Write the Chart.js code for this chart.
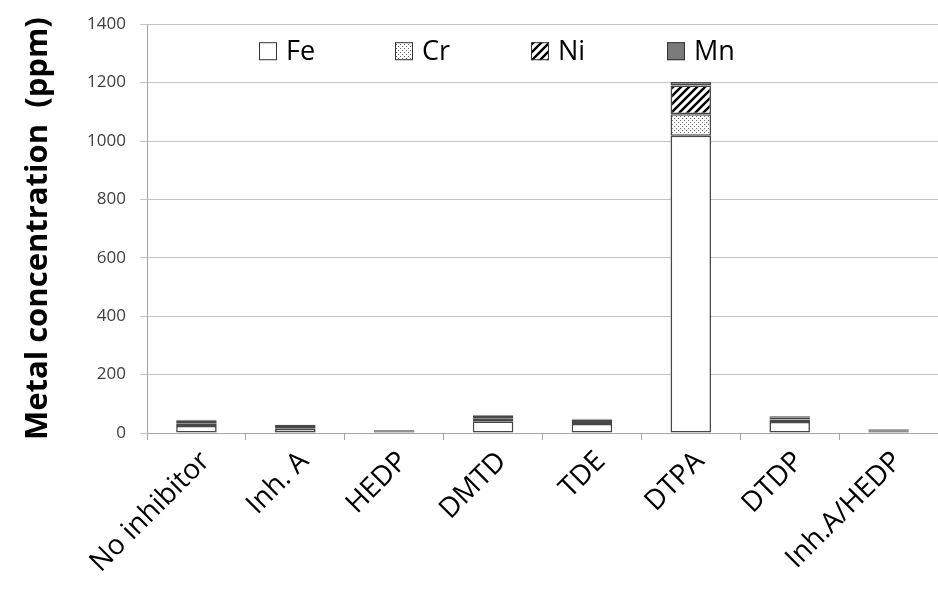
<!DOCTYPE html>
<html>
<head>
<meta charset="utf-8">
<script src="https://cdn.jsdelivr.net/npm/chart.js@4"></script>
<style>
  html, body { margin: 0; padding: 0; background: #fff; }
  #wrap { width: 938px; height: 597px; }
</style>
</head>
<body>
<div id="wrap"><canvas id="chart" width="938" height="597"></canvas></div>
<script>
// Dissolved metal concentration per inhibitor (ppm), stacked by element
const inhibitors = ['No inhibitor', 'Inh. A', 'HEDP', 'DMTD', 'TDE', 'DTPA', 'DTDP', 'Inh.A/HEDP'];
const fe = [24, 14, 6, 40, 31, 1018, 38, 6];
const cr = [9, 2, 1, 9, 7, 74, 8, 2];
const ni = [9, 8, 2, 9, 8, 98, 8, 4];
const mn = [3, 4, 1, 3, 3, 12, 3, 2];
const metals = ['Fe', 'Cr', 'Ni', 'Mn'];
const yTicks = [0, 200, 400, 600, 800, 1000, 1200, 1400];

// Fill patterns for each element
function makeTile(size, draw) {
  const c = document.createElement('canvas');
  c.width = size; c.height = size;
  const g = c.getContext('2d');
  g.fillStyle = '#ffffff';
  g.fillRect(0, 0, size, size);
  draw(g);
  return document.getElementById('chart').getContext('2d').createPattern(c, 'repeat');
}
const dotFill = makeTile(4, g => {
  g.fillStyle = '#6a6a6a';
  g.fillRect(0, 0, 1, 1);
  g.fillRect(2, 2, 1, 1);
});
const hatchFill = makeTile(8, g => {
  g.strokeStyle = '#000';
  g.lineWidth = 2.4;
  g.beginPath();
  g.moveTo(-1, 9); g.lineTo(9, -1);
  g.moveTo(-1, 1); g.lineTo(1, -1);
  g.moveTo(7, 9); g.lineTo(9, 7);
  g.stroke();
});
const fills = ['#ffffff', dotFill, hatchFill, '#7a7a7a'];
const series = [fe, cr, ni, mn];

const FONT = "'Open Sans', 'Liberation Sans', sans-serif";

// Legend drawn inside the plot area, along its top edge
const innerLegend = {
  id: 'innerLegend',
  afterDraw(chart) {
    const ctx = chart.ctx;
    const area = chart.chartArea;
    const y = area.top + 27;
    const box = 18;
    ctx.save();
    ctx.font = '27px ' + FONT;
    ctx.textBaseline = 'middle';
    chart.data.datasets.forEach((ds, i) => {
      const x = area.left + 112 + i * 136;
      ctx.fillStyle = ds.backgroundColor;
      ctx.fillRect(x, y - box / 2, box, box);
      ctx.strokeStyle = '#333';
      ctx.lineWidth = 1;
      ctx.strokeRect(x + 0.5, y - box / 2 + 0.5, box - 1, box - 1);
      ctx.fillStyle = '#000';
      ctx.fillText(ds.label, x + 27, y + 1);
    });
    ctx.restore();
  }
};

new Chart(document.getElementById('chart'), {
  type: 'bar',
  data: {
    labels: inhibitors,
    datasets: metals.map((m, i) => ({
      label: m,
      data: series[i],
      backgroundColor: fills[i],
      borderColor: '#484848',
      borderWidth: 1.6,
      borderSkipped: false,
      barPercentage: 0.41,
      categoryPercentage: 1.0
    }))
  },
  options: {
    responsive: false,
    devicePixelRatio: 1,
    animation: false,
    layout: { padding: { top: 21, right: 0, left: 0, bottom: 0 } },
    plugins: {
      legend: { display: false },
      tooltip: { enabled: false }
    },
    scales: {
      x: {
        stacked: true,
        grid: { offset: true, drawOnChartArea: false, color: '#a6a6a6', tickLength: 7, lineWidth: 1 },
        border: { color: '#a6a6a6', width: 1 },
        ticks: {
          autoSkip: false, maxRotation: 45, minRotation: 45,
          color: '#000', font: { family: FONT, size: 28 }, padding: 5,
          labelOffset: 9
        },
        afterFit(scale) { scale.height = 164; }
      },
      y: {
        stacked: true,
        min: 0, max: 1400,
        afterBuildTicks(scale) { scale.ticks = yTicks.map(v => ({ value: v })); },
        grid: { color: '#c4c4c4', tickLength: 7, lineWidth: 1 },
        border: { color: '#a6a6a6', width: 1 },
        ticks: {
          color: '#404040', font: { family: FONT, size: 17 }, padding: 14,
          callback: v => String(v)
        },
        title: {
          display: true,
          text: 'Metal concentration  (ppm)',
          color: '#000',
          font: { family: FONT, size: 31, weight: 'bold' },
          padding: { top: 20, bottom: 0 }
        },
        afterFit(scale) { scale.width = 147; }
      }
    }
  },
  plugins: [innerLegend]
});
</script>
</body>
</html>
